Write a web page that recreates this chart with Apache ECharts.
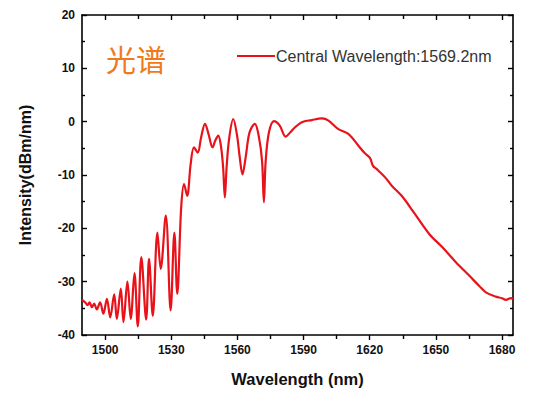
<!DOCTYPE html>
<html><head><meta charset="utf-8">
<script src="https://cdn.jsdelivr.net/npm/echarts@6/dist/echarts.min.js"></script>
<style>html,body{margin:0;padding:0;background:#fff}#c{width:554px;height:395px}</style>
</head><body><div id="c"></div>
<script>
const wavelength = [1489.5,1491,1492,1492.9,1494,1495,1496.2,1497.7,1499.2,1500.8,1502.3,1504.1,1505.3,1507.1,1508.3,1510.1,1511.6,1513.3,1514.8,1516.4,1518.6,1519.9,1521.6,1523.7,1525.2,1527.5,1529.7,1531.4,1532.7,1534.5,1535.8,1537.2,1538.8,1540.3,1542.0,1543.5,1545.3,1547,1548.7,1550,1551.3,1552.5,1553.5,1554.3,1555.1,1556.3,1558.1,1559.8,1561,1562.3,1563.8,1565.5,1567.9,1569.8,1571.2,1572.0,1572.8,1574.3,1576.6,1579.2,1581.9,1584,1586,1589.2,1593.7,1598.3,1601.3,1605.8,1610.3,1614.9,1617.5,1620.1,1621.5,1623.2,1626.9,1630,1634.5,1640,1647.1,1653.1,1659.2,1665.2,1669.7,1672.7,1677.2,1680,1681.8,1684,1685];
const intensity = [-33.4,-33.9,-34.4,-33.9,-34.8,-34.1,-35.2,-33.9,-36.0,-33.2,-36.7,-32.4,-37.0,-31.3,-37.6,-30.0,-37.0,-28.4,-38.4,-25.4,-37.1,-25.7,-36.4,-20.8,-27.6,-17.6,-35.4,-20.8,-32.3,-16,-11.7,-13.9,-7.9,-4.8,-5.8,-3,-0.4,-2.5,-4.8,-3.5,-2.6,-4.5,-8.5,-14.2,-8.5,-3,0.5,-2.5,-6.5,-9.9,-6.5,-2,-0.4,-3,-7.5,-15.1,-7.5,-2,0.1,-0.75,-2.8,-2,-1.1,-0.1,0.3,0.6,0.2,-1.4,-2.3,-4.5,-5.8,-6.8,-8.3,-8.9,-10.4,-12,-13.9,-17.0,-21.1,-23.6,-26.4,-28.9,-30.8,-32.0,-32.8,-33.1,-33.4,-33.1,-33.3];
const xMajorTicks = [1500,1530,1560,1590,1620,1650,1680];
const xMinorTicks = [1515,1545,1575,1605,1635,1665];
const yRange = [-40, 20];
const xRange = [1489.5, 1685];
const seriesName = 'Central Wavelength:1569.2nm';
const titleText = '光谱';
const xName = 'Wavelength (nm)';
const yName = 'Intensity(dBm/nm)';

const data = wavelength.map((w, i) => [w, intensity[i]]);
const FONT = 'Liberation Sans, Arial, sans-serif';
const lineStyleAxis = {color: '#000', width: 1.6};
const labelFont = {color: '#111', fontWeight: 'bold', fontSize: 12, fontFamily: FONT};

function xAx(pos, ticks, len, inside, withLine, withLabel) {
  return {
    type: 'value', position: pos, min: xRange[0], max: xRange[1],
    axisLine: {show: withLine, onZero: false, lineStyle: lineStyleAxis},
    axisTick: {show: true, inside: inside, length: len, customValues: ticks, lineStyle: {color: '#000', width: 1.4}},
    axisLabel: withLabel ? Object.assign({show: true, margin: 9, customValues: xMajorTicks, formatter: v => String(v)}, labelFont) : {show: false},
    splitLine: {show: false},
    name: withLabel ? xName : '', nameLocation: 'middle', nameGap: 35,
    nameTextStyle: {fontWeight: 'bold', fontSize: 16.5, color: '#111', fontFamily: FONT}
  };
}
function yAx(pos, withLabel) {
  return {
    type: 'value', position: pos, min: yRange[0], max: yRange[1], interval: 10,
    axisLine: {show: true, onZero: false, lineStyle: lineStyleAxis},
    axisTick: {show: true, inside: true, length: 5, lineStyle: {color: '#000', width: 1.4}},
    minorTick: {show: true, splitNumber: 2, length: 3, lineStyle: {color: '#000', width: 1.4}},
    axisLabel: withLabel ? Object.assign({show: true, margin: 7}, labelFont) : {show: false},
    splitLine: {show: false}, minorSplitLine: {show: false},
    name: withLabel ? yName : '', nameLocation: 'middle', nameGap: 49, nameRotate: 90,
    nameTextStyle: {fontWeight: 'bold', fontSize: 16, color: '#111', fontFamily: FONT}
  };
}

const chart = echarts.init(document.getElementById('c'), null, {renderer: 'svg'});
chart.setOption({
  animation: false,
  backgroundColor: '#fff',
  grid: {left: 82, right: 41, top: 15, bottom: 60, containLabel: false},
  xAxis: [
    xAx('bottom', xMajorTicks, 5, false, true, true),
    xAx('bottom', xMinorTicks, 4, false, false, false),
    xAx('top', xMajorTicks, 5, true, true, false),
    xAx('top', xMinorTicks, 4, true, false, false)
  ],
  yAxis: [yAx('left', true), yAx('right', false)],
  legend: {
    left: 237, top: 48, padding: 0, itemWidth: 38, itemHeight: 2, icon: 'rect', itemGap: 0,
    textStyle: {fontSize: 16, color: '#333', fontFamily: FONT, padding: [0,0,0,-4]},
    data: [seriesName]
  },
  graphic: [{
    type: 'text', left: 106, top: 43,
    style: {text: titleText, fontSize: 30, fill: '#ef7a1d', fontFamily: 'Noto Sans CJK SC'}
  }],
  series: [{
    name: seriesName, type: 'line', data: data, xAxisIndex: 0, yAxisIndex: 0,
    showSymbol: false, smooth: 0.35,
    lineStyle: {color: '#e8121a', width: 2.2}, itemStyle: {color: '#e8121a'}
  }]
});
</script></body></html>
